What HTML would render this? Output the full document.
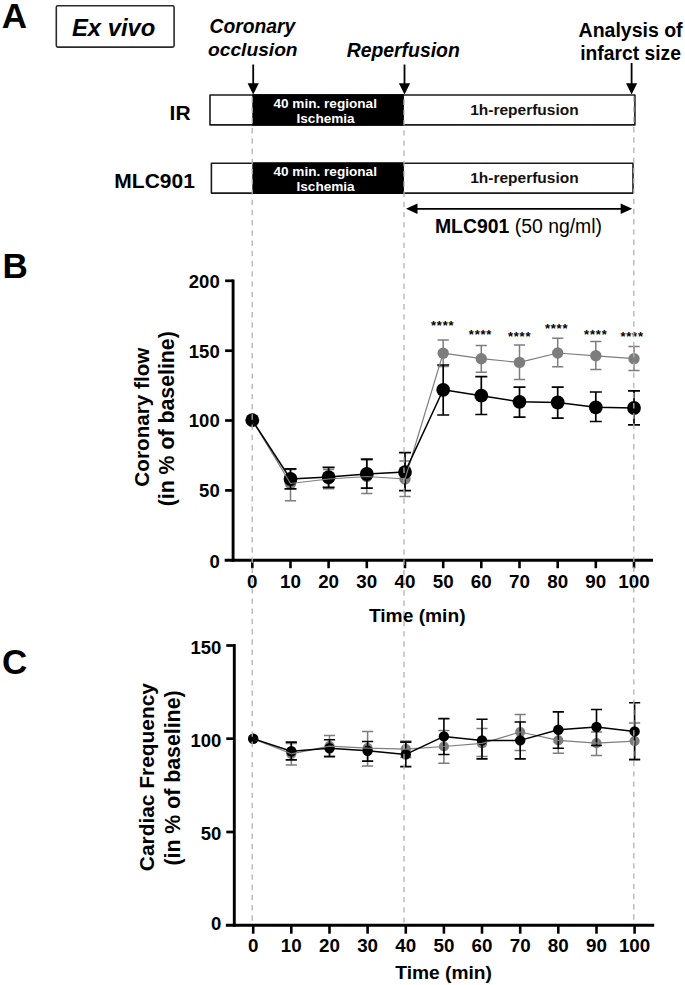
<!DOCTYPE html>
<html lang="en"><head><meta charset="utf-8"><title>Figure</title>
<style>html,body{margin:0;padding:0;background:#fff}svg{display:block}text{font-family:"Liberation Sans", Arial, Helvetica, sans-serif;fill:#000}</style>
</head><body>
<svg width="685" height="985" viewBox="0 0 685 985">
<rect width="685" height="985" fill="#fff"/>
<text x="1.8" y="28.3" font-size="35" font-weight="bold">A</text>
<text x="2.4" y="278.3" font-size="35" font-weight="bold">B</text>
<text x="2.0" y="674.4" font-size="35" font-weight="bold">C</text>
<rect x="56.3" y="5.7" width="117.8" height="41.4" rx="1.6" fill="#fff" stroke="#2a2a2a" stroke-width="1.6"/>
<text x="113.6" y="35.6" font-size="23.8" font-weight="bold" font-style="italic" text-anchor="middle">Ex vivo</text>
<text x="252.4" y="32.8" font-size="19.3" font-weight="bold" font-style="italic" text-anchor="middle">Coronary</text>
<text x="252.8" y="55.5" font-size="19.2" font-weight="bold" font-style="italic" text-anchor="middle">occlusion</text>
<text x="403.2" y="57" font-size="19.4" font-weight="bold" font-style="italic" text-anchor="middle">Reperfusion</text>
<text x="630.6" y="36.7" font-size="19.5" font-weight="bold" text-anchor="middle">Analysis of</text>
<text x="630.6" y="60.1" font-size="19.3" font-weight="bold" text-anchor="middle">infarct size</text>
<line x1="253.2" y1="64.5" x2="253.2" y2="86.6" stroke="#000" stroke-width="1.8"/>
<polygon points="247.6,83.2 258.8,83.2 253.2,94.6" fill="#000"/>
<line x1="404.5" y1="64.5" x2="404.5" y2="86.6" stroke="#000" stroke-width="1.8"/>
<polygon points="398.9,83.2 410.1,83.2 404.5,94.6" fill="#000"/>
<line x1="631.6" y1="63.0" x2="631.6" y2="86.6" stroke="#000" stroke-width="1.8"/>
<polygon points="626.0,83.2 637.2,83.2 631.6,94.6" fill="#000"/>
<rect x="210.00" y="95.00" width="424.90" height="29.90" fill="#fff" stroke="#1a1a1a" stroke-width="1.6" stroke-linejoin="round"/>
<rect x="252.3" y="94.20" width="151.6" height="31.50" fill="#000"/>
<text x="325.2" y="107.6" font-size="13.6" font-weight="bold" text-anchor="middle" style="fill:#fff">40 min. regional</text>
<text x="325.6" y="122.6" font-size="13.6" font-weight="bold" text-anchor="middle" style="fill:#fff">Ischemia</text>
<text x="524.4" y="114.6" font-size="15.5" font-weight="bold" text-anchor="middle" style="fill:#111">1h-reperfusion</text>
<text x="190.6" y="119.7" font-size="21" font-weight="bold" text-anchor="end">IR</text>
<rect x="211.40" y="163.20" width="421.60" height="29.90" fill="#fff" stroke="#1a1a1a" stroke-width="1.6" stroke-linejoin="round"/>
<rect x="252.3" y="162.40" width="151.6" height="31.50" fill="#000"/>
<text x="325.2" y="175.8" font-size="13.6" font-weight="bold" text-anchor="middle" style="fill:#fff">40 min. regional</text>
<text x="325.6" y="190.8" font-size="13.6" font-weight="bold" text-anchor="middle" style="fill:#fff">Ischemia</text>
<text x="524.4" y="182.8" font-size="15.5" font-weight="bold" text-anchor="middle" style="fill:#111">1h-reperfusion</text>
<text x="194.9" y="187.9" font-size="21" font-weight="bold" text-anchor="end">MLC901</text>
<line x1="414" y1="208.8" x2="624" y2="208.8" stroke="#000" stroke-width="1.7"/>
<polygon points="406,208.8 417.5,203.6 417.5,214" fill="#000"/>
<polygon points="632.2,208.8 620.7,203.6 620.7,214" fill="#000"/>
<text x="518.5" y="233" font-size="19.4" text-anchor="middle"><tspan font-weight="bold">MLC901</tspan> (50 ng/ml)</text>
<line x1="233.1" y1="279.4" x2="233.1" y2="561.8" stroke="#000" stroke-width="2.9"/>
<line x1="224.7" y1="560.3" x2="653.0" y2="560.3" stroke="#000" stroke-width="2.9"/>
<text x="219.7" y="567.5" font-size="18.5" font-weight="bold" text-anchor="end">0</text>
<line x1="225.1" y1="490.4" x2="233.1" y2="490.4" stroke="#000" stroke-width="2.7"/>
<text x="219.7" y="497.3" font-size="18.5" font-weight="bold" text-anchor="end">50</text>
<line x1="225.1" y1="420.5" x2="233.1" y2="420.5" stroke="#000" stroke-width="2.7"/>
<text x="219.7" y="427.4" font-size="18.5" font-weight="bold" text-anchor="end">100</text>
<line x1="225.1" y1="350.7" x2="233.1" y2="350.7" stroke="#000" stroke-width="2.7"/>
<text x="219.7" y="357.6" font-size="18.5" font-weight="bold" text-anchor="end">150</text>
<line x1="225.1" y1="280.8" x2="233.1" y2="280.8" stroke="#000" stroke-width="2.7"/>
<text x="219.7" y="287.7" font-size="18.5" font-weight="bold" text-anchor="end">200</text>
<line x1="252.3" y1="560.3" x2="252.3" y2="568.2" stroke="#000" stroke-width="2.6"/>
<text x="252.3" y="588.0" font-size="18.8" font-weight="bold" text-anchor="middle">0</text>
<line x1="290.5" y1="560.3" x2="290.5" y2="568.2" stroke="#000" stroke-width="2.6"/>
<text x="290.5" y="588.0" font-size="18.8" font-weight="bold" text-anchor="middle">10</text>
<line x1="328.6" y1="560.3" x2="328.6" y2="568.2" stroke="#000" stroke-width="2.6"/>
<text x="328.6" y="588.0" font-size="18.8" font-weight="bold" text-anchor="middle">20</text>
<line x1="366.8" y1="560.3" x2="366.8" y2="568.2" stroke="#000" stroke-width="2.6"/>
<text x="366.8" y="588.0" font-size="18.8" font-weight="bold" text-anchor="middle">30</text>
<line x1="405.0" y1="560.3" x2="405.0" y2="568.2" stroke="#000" stroke-width="2.6"/>
<text x="405.0" y="588.0" font-size="18.8" font-weight="bold" text-anchor="middle">40</text>
<line x1="443.2" y1="560.3" x2="443.2" y2="568.2" stroke="#000" stroke-width="2.6"/>
<text x="443.2" y="588.0" font-size="18.8" font-weight="bold" text-anchor="middle">50</text>
<line x1="481.3" y1="560.3" x2="481.3" y2="568.2" stroke="#000" stroke-width="2.6"/>
<text x="481.3" y="588.0" font-size="18.8" font-weight="bold" text-anchor="middle">60</text>
<line x1="519.5" y1="560.3" x2="519.5" y2="568.2" stroke="#000" stroke-width="2.6"/>
<text x="519.5" y="588.0" font-size="18.8" font-weight="bold" text-anchor="middle">70</text>
<line x1="557.7" y1="560.3" x2="557.7" y2="568.2" stroke="#000" stroke-width="2.6"/>
<text x="557.7" y="588.0" font-size="18.8" font-weight="bold" text-anchor="middle">80</text>
<line x1="595.8" y1="560.3" x2="595.8" y2="568.2" stroke="#000" stroke-width="2.6"/>
<text x="595.8" y="588.0" font-size="18.8" font-weight="bold" text-anchor="middle">90</text>
<line x1="634.0" y1="560.3" x2="634.0" y2="568.2" stroke="#000" stroke-width="2.6"/>
<text x="634.0" y="588.0" font-size="18.8" font-weight="bold" text-anchor="middle">100</text>
<text x="368.9" y="621.7" font-size="19.2" font-weight="bold">Time (min)</text>
<text transform="translate(148.6,417.1) rotate(-90)" font-size="20.7" font-weight="bold" text-anchor="middle">Coronary flow</text>
<text transform="translate(173.6,418.8) rotate(-90)" font-size="21.3" font-weight="bold" text-anchor="middle">(in % of baseline)</text>
<path d="M290.5 469.4V500.8M284.9 469.4h11.2M284.9 500.8h11.2" stroke="#7d7d7d" stroke-width="1.5" fill="none"/>
<path d="M328.6 469.5V488.8M323.0 469.5h11.2M323.0 488.8h11.2" stroke="#7d7d7d" stroke-width="1.5" fill="none"/>
<path d="M366.8 460.0V493.5M361.2 460.0h11.2M361.2 493.5h11.2" stroke="#7d7d7d" stroke-width="1.5" fill="none"/>
<path d="M405.0 461.0V496.5M399.4 461.0h11.2M399.4 496.5h11.2" stroke="#7d7d7d" stroke-width="1.5" fill="none"/>
<path d="M443.2 339.9V366.5M437.6 339.9h11.2M437.6 366.5h11.2" stroke="#7d7d7d" stroke-width="1.5" fill="none"/>
<path d="M481.3 345.5V372.3M475.7 345.5h11.2M475.7 372.3h11.2" stroke="#7d7d7d" stroke-width="1.5" fill="none"/>
<path d="M519.5 344.9V379.5M513.9 344.9h11.2M513.9 379.5h11.2" stroke="#7d7d7d" stroke-width="1.5" fill="none"/>
<path d="M557.7 338.3V366.8M552.1 338.3h11.2M552.1 366.8h11.2" stroke="#7d7d7d" stroke-width="1.5" fill="none"/>
<path d="M595.8 341.6V369.6M590.2 341.6h11.2M590.2 369.6h11.2" stroke="#7d7d7d" stroke-width="1.5" fill="none"/>
<path d="M634.0 346.6V370.5M628.4 346.6h11.2M628.4 370.5h11.2" stroke="#7d7d7d" stroke-width="1.5" fill="none"/>
<circle cx="252.3" cy="420.2" r="5.7" fill="#7d7d7d"/>
<circle cx="290.5" cy="483.5" r="5.7" fill="#7d7d7d"/>
<circle cx="328.6" cy="479.0" r="5.7" fill="#7d7d7d"/>
<circle cx="366.8" cy="476.5" r="5.7" fill="#7d7d7d"/>
<circle cx="405.0" cy="479.0" r="5.7" fill="#7d7d7d"/>
<circle cx="443.2" cy="353.2" r="5.7" fill="#7d7d7d"/>
<circle cx="481.3" cy="358.7" r="5.7" fill="#7d7d7d"/>
<circle cx="519.5" cy="362.4" r="5.7" fill="#7d7d7d"/>
<circle cx="557.7" cy="353.0" r="5.7" fill="#7d7d7d"/>
<circle cx="595.8" cy="355.8" r="5.7" fill="#7d7d7d"/>
<circle cx="634.0" cy="358.7" r="5.7" fill="#7d7d7d"/>
<path d="M290.5 468.8V488.8M284.5 468.8h12.0M284.5 488.8h12.0" stroke="#000" stroke-width="1.7" fill="none"/>
<path d="M328.6 467.4V487.4M322.6 467.4h12.0M322.6 487.4h12.0" stroke="#000" stroke-width="1.7" fill="none"/>
<path d="M366.8 459.1V488.2M360.8 459.1h12.0M360.8 488.2h12.0" stroke="#000" stroke-width="1.7" fill="none"/>
<path d="M405.0 452.7V490.7M399.0 452.7h12.0M399.0 490.7h12.0" stroke="#000" stroke-width="1.7" fill="none"/>
<path d="M443.2 365.0V415.0M437.2 365.0h12.0M437.2 415.0h12.0" stroke="#000" stroke-width="1.7" fill="none"/>
<path d="M481.3 376.6V414.5M475.3 376.6h12.0M475.3 414.5h12.0" stroke="#000" stroke-width="1.7" fill="none"/>
<path d="M519.5 387.1V417.1M513.5 387.1h12.0M513.5 417.1h12.0" stroke="#000" stroke-width="1.7" fill="none"/>
<path d="M557.7 387.1V418.2M551.7 387.1h12.0M551.7 418.2h12.0" stroke="#000" stroke-width="1.7" fill="none"/>
<path d="M595.8 392.0V421.5M589.8 392.0h12.0M589.8 421.5h12.0" stroke="#000" stroke-width="1.7" fill="none"/>
<path d="M634.0 390.9V424.8M628.0 390.9h12.0M628.0 424.8h12.0" stroke="#000" stroke-width="1.7" fill="none"/>
<circle cx="252.3" cy="420.2" r="6.9" fill="#000"/>
<circle cx="290.5" cy="479.0" r="6.9" fill="#000"/>
<circle cx="328.6" cy="477.1" r="6.9" fill="#000"/>
<circle cx="366.8" cy="474.0" r="6.9" fill="#000"/>
<circle cx="405.0" cy="472.1" r="6.9" fill="#000"/>
<circle cx="443.2" cy="389.8" r="6.9" fill="#000"/>
<circle cx="481.3" cy="395.7" r="6.9" fill="#000"/>
<circle cx="519.5" cy="401.8" r="6.9" fill="#000"/>
<circle cx="557.7" cy="402.5" r="6.9" fill="#000"/>
<circle cx="595.8" cy="407.3" r="6.9" fill="#000"/>
<circle cx="634.0" cy="408.0" r="6.9" fill="#000"/>
<polyline points="252.3,420.2 290.5,483.5 328.6,479.0 366.8,476.5 405.0,479.0 443.2,353.2 481.3,358.7 519.5,362.4 557.7,353.0 595.8,355.8 634.0,358.7" fill="none" stroke="#7d7d7d" stroke-width="1.2" stroke-linejoin="round"/>
<polyline points="252.3,420.2 290.5,479.0 328.6,477.1 366.8,474.0 405.0,472.1 443.2,389.8 481.3,395.7 519.5,401.8 557.7,402.5 595.8,407.3 634.0,408.0" fill="none" stroke="#000" stroke-width="1.5" stroke-linejoin="round"/>
<text x="442.7" y="329.7" font-size="13" font-weight="bold" letter-spacing="0.8" text-anchor="middle">****</text>
<text x="480.5" y="339.1" font-size="13" font-weight="bold" letter-spacing="0.8" text-anchor="middle">****</text>
<text x="519.6" y="340.6" font-size="13" font-weight="bold" letter-spacing="0.8" text-anchor="middle">****</text>
<text x="556.6" y="333.0" font-size="13" font-weight="bold" letter-spacing="0.8" text-anchor="middle">****</text>
<text x="595.8" y="338.9" font-size="13" font-weight="bold" letter-spacing="0.8" text-anchor="middle">****</text>
<text x="632.1" y="340.7" font-size="13" font-weight="bold" letter-spacing="0.8" text-anchor="middle">****</text>
<line x1="234.3" y1="644.1" x2="234.3" y2="926.7" stroke="#000" stroke-width="2.9"/>
<line x1="225.9" y1="925.2" x2="654.2" y2="925.2" stroke="#000" stroke-width="2.9"/>
<text x="221.4" y="929.9" font-size="18.5" font-weight="bold" text-anchor="end">0</text>
<line x1="226.3" y1="832.0" x2="234.3" y2="832.0" stroke="#000" stroke-width="2.7"/>
<text x="221.4" y="840.0" font-size="18.5" font-weight="bold" text-anchor="end">50</text>
<line x1="226.3" y1="738.7" x2="234.3" y2="738.7" stroke="#000" stroke-width="2.7"/>
<text x="221.4" y="746.7" font-size="18.5" font-weight="bold" text-anchor="end">100</text>
<line x1="226.3" y1="645.5" x2="234.3" y2="645.5" stroke="#000" stroke-width="2.7"/>
<text x="221.4" y="653.5" font-size="18.5" font-weight="bold" text-anchor="end">150</text>
<line x1="253.2" y1="925.2" x2="253.2" y2="933.7" stroke="#000" stroke-width="2.6"/>
<text x="253.2" y="952.1" font-size="18.8" font-weight="bold" text-anchor="middle">0</text>
<line x1="291.3" y1="925.2" x2="291.3" y2="933.7" stroke="#000" stroke-width="2.6"/>
<text x="291.3" y="952.1" font-size="18.8" font-weight="bold" text-anchor="middle">10</text>
<line x1="329.5" y1="925.2" x2="329.5" y2="933.7" stroke="#000" stroke-width="2.6"/>
<text x="329.5" y="952.1" font-size="18.8" font-weight="bold" text-anchor="middle">20</text>
<line x1="367.6" y1="925.2" x2="367.6" y2="933.7" stroke="#000" stroke-width="2.6"/>
<text x="367.6" y="952.1" font-size="18.8" font-weight="bold" text-anchor="middle">30</text>
<line x1="405.8" y1="925.2" x2="405.8" y2="933.7" stroke="#000" stroke-width="2.6"/>
<text x="405.8" y="952.1" font-size="18.8" font-weight="bold" text-anchor="middle">40</text>
<line x1="443.9" y1="925.2" x2="443.9" y2="933.7" stroke="#000" stroke-width="2.6"/>
<text x="443.9" y="952.1" font-size="18.8" font-weight="bold" text-anchor="middle">50</text>
<line x1="482.0" y1="925.2" x2="482.0" y2="933.7" stroke="#000" stroke-width="2.6"/>
<text x="482.0" y="952.1" font-size="18.8" font-weight="bold" text-anchor="middle">60</text>
<line x1="520.2" y1="925.2" x2="520.2" y2="933.7" stroke="#000" stroke-width="2.6"/>
<text x="520.2" y="952.1" font-size="18.8" font-weight="bold" text-anchor="middle">70</text>
<line x1="558.3" y1="925.2" x2="558.3" y2="933.7" stroke="#000" stroke-width="2.6"/>
<text x="558.3" y="952.1" font-size="18.8" font-weight="bold" text-anchor="middle">80</text>
<line x1="596.5" y1="925.2" x2="596.5" y2="933.7" stroke="#000" stroke-width="2.6"/>
<text x="596.5" y="952.1" font-size="18.8" font-weight="bold" text-anchor="middle">90</text>
<line x1="634.6" y1="925.2" x2="634.6" y2="933.7" stroke="#000" stroke-width="2.6"/>
<text x="634.6" y="952.1" font-size="18.8" font-weight="bold" text-anchor="middle">100</text>
<text x="395.3" y="978.7" font-size="19.2" font-weight="bold">Time (min)</text>
<text transform="translate(154.1,777.1) rotate(-90)" font-size="20.9" font-weight="bold" text-anchor="middle">Cardiac Frequency</text>
<text transform="translate(179.8,778.0) rotate(-90)" font-size="21.3" font-weight="bold" text-anchor="middle">(in % of baseline)</text>
<path d="M291.3 743.6V765.1M285.7 743.6h11.2M285.7 765.1h11.2" stroke="#7d7d7d" stroke-width="1.5" fill="none"/>
<path d="M329.5 735.4V755.9M323.9 735.4h11.2M323.9 755.9h11.2" stroke="#7d7d7d" stroke-width="1.5" fill="none"/>
<path d="M367.6 731.4V766.0M362.0 731.4h11.2M362.0 766.0h11.2" stroke="#7d7d7d" stroke-width="1.5" fill="none"/>
<path d="M405.8 741.0V757.5M400.2 741.0h11.2M400.2 757.5h11.2" stroke="#7d7d7d" stroke-width="1.5" fill="none"/>
<path d="M443.9 730.4V763.3M438.3 730.4h11.2M438.3 763.3h11.2" stroke="#7d7d7d" stroke-width="1.5" fill="none"/>
<path d="M482.0 728.5V756.5M476.4 728.5h11.2M476.4 756.5h11.2" stroke="#7d7d7d" stroke-width="1.5" fill="none"/>
<path d="M520.2 714.6V750.5M514.6 714.6h11.2M514.6 750.5h11.2" stroke="#7d7d7d" stroke-width="1.5" fill="none"/>
<path d="M558.3 730.4V753.2M552.7 730.4h11.2M552.7 753.2h11.2" stroke="#7d7d7d" stroke-width="1.5" fill="none"/>
<path d="M596.5 732.0V755.6M590.9 732.0h11.2M590.9 755.6h11.2" stroke="#7d7d7d" stroke-width="1.5" fill="none"/>
<path d="M634.6 723.0V759.0M629.0 723.0h11.2M629.0 759.0h11.2" stroke="#7d7d7d" stroke-width="1.5" fill="none"/>
<circle cx="253.2" cy="738.8" r="5.1" fill="#7d7d7d"/>
<circle cx="291.3" cy="753.8" r="5.1" fill="#7d7d7d"/>
<circle cx="329.5" cy="746.1" r="5.1" fill="#7d7d7d"/>
<circle cx="367.6" cy="748.2" r="5.1" fill="#7d7d7d"/>
<circle cx="405.8" cy="749.2" r="5.1" fill="#7d7d7d"/>
<circle cx="443.9" cy="746.5" r="5.1" fill="#7d7d7d"/>
<circle cx="482.0" cy="743.4" r="5.1" fill="#7d7d7d"/>
<circle cx="520.2" cy="732.0" r="5.1" fill="#7d7d7d"/>
<circle cx="558.3" cy="740.4" r="5.1" fill="#7d7d7d"/>
<circle cx="596.5" cy="743.1" r="5.1" fill="#7d7d7d"/>
<circle cx="634.6" cy="741.1" r="5.1" fill="#7d7d7d"/>
<path d="M291.3 742.1V759.9M285.7 742.1h11.2M285.7 759.9h11.2" stroke="#000" stroke-width="1.6" fill="none"/>
<path d="M329.5 739.7V756.8M323.9 739.7h11.2M323.9 756.8h11.2" stroke="#000" stroke-width="1.6" fill="none"/>
<path d="M367.6 741.5V761.1M362.0 741.5h11.2M362.0 761.1h11.2" stroke="#000" stroke-width="1.6" fill="none"/>
<path d="M405.8 742.1V766.6M400.2 742.1h11.2M400.2 766.6h11.2" stroke="#000" stroke-width="1.6" fill="none"/>
<path d="M443.9 718.6V754.5M438.3 718.6h11.2M438.3 754.5h11.2" stroke="#000" stroke-width="1.6" fill="none"/>
<path d="M482.0 719.3V758.9M476.4 719.3h11.2M476.4 758.9h11.2" stroke="#000" stroke-width="1.6" fill="none"/>
<path d="M520.2 722.0V758.9M514.6 722.0h11.2M514.6 758.9h11.2" stroke="#000" stroke-width="1.6" fill="none"/>
<path d="M558.3 711.9V748.2M552.7 711.9h11.2M552.7 748.2h11.2" stroke="#000" stroke-width="1.6" fill="none"/>
<path d="M596.5 709.5V745.5M590.9 709.5h11.2M590.9 745.5h11.2" stroke="#000" stroke-width="1.6" fill="none"/>
<path d="M634.6 702.8V759.8M629.0 702.8h11.2M629.0 759.8h11.2" stroke="#000" stroke-width="1.6" fill="none"/>
<circle cx="253.2" cy="738.8" r="5.2" fill="#000"/>
<circle cx="291.3" cy="751.3" r="5.2" fill="#000"/>
<circle cx="329.5" cy="748.2" r="5.2" fill="#000"/>
<circle cx="367.6" cy="750.7" r="5.2" fill="#000"/>
<circle cx="405.8" cy="754.4" r="5.2" fill="#000"/>
<circle cx="443.9" cy="736.4" r="5.2" fill="#000"/>
<circle cx="482.0" cy="740.4" r="5.2" fill="#000"/>
<circle cx="520.2" cy="740.4" r="5.2" fill="#000"/>
<circle cx="558.3" cy="729.7" r="5.2" fill="#000"/>
<circle cx="596.5" cy="727.0" r="5.2" fill="#000"/>
<circle cx="634.6" cy="731.4" r="5.2" fill="#000"/>
<polyline points="253.2,738.8 291.3,753.8 329.5,746.1 367.6,748.2 405.8,749.2 443.9,746.5 482.0,743.4 520.2,732.0 558.3,740.4 596.5,743.1 634.6,741.1" fill="none" stroke="#7d7d7d" stroke-width="1.2" stroke-linejoin="round"/>
<polyline points="253.2,738.8 291.3,751.3 329.5,748.2 367.6,750.7 405.8,754.4 443.9,736.4 482.0,740.4 520.2,740.4 558.3,729.7 596.5,727.0 634.6,731.4" fill="none" stroke="#000" stroke-width="1.5" stroke-linejoin="round"/>
<line x1="252.2" y1="97.4" x2="252.2" y2="924.2" stroke="#b2b2b2" stroke-width="1.3" stroke-dasharray="5.4 4.824"/>
<line x1="404.0" y1="99.5" x2="404.0" y2="924.2" stroke="#b2b2b2" stroke-width="1.3" stroke-dasharray="5.4 4.824"/>
<line x1="633.8" y1="96.4" x2="633.8" y2="924.2" stroke="#b2b2b2" stroke-width="1.3" stroke-dasharray="5.4 4.824"/>
</svg></body></html>
